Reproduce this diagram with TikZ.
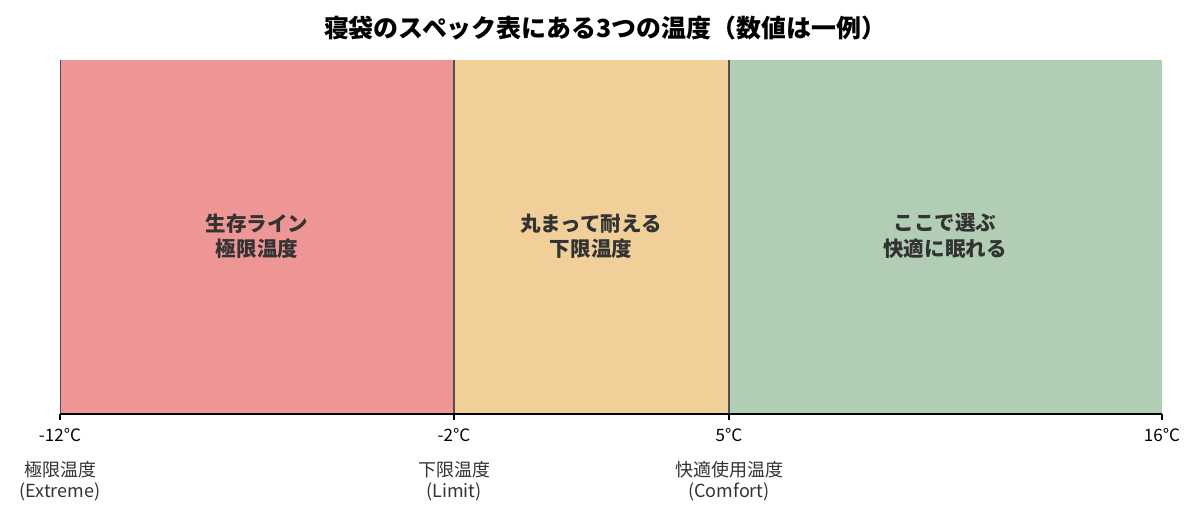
\documentclass[tikz,border=0pt]{standalone}
\usepackage{fontspec}
\setmainfont{Noto Sans CJK JP}
\definecolor{cred}{RGB}{237,150,149}
\definecolor{corange}{RGB}{240,207,152}
\definecolor{cgreen}{RGB}{177,206,181}
\definecolor{ctext}{RGB}{51,51,51}
\definecolor{cdiv}{RGB}{80,80,80}
\tikzset{
  band/.style={draw=none},
  divider/.style={draw=cdiv, line width=1.6pt},
  axisline/.style={draw=black, line width=0.9pt},
  tickmark/.style={draw=black, line width=0.9pt},
  zonelabel/.style={font=\fontsize{15.4}{19}\selectfont\bfseries, text=ctext, align=center},
  ticklabel/.style={font=\fontsize{12.8}{15}\selectfont, text=black},
  kindlabel/.style={font=\fontsize{13.5}{15.5}\selectfont, text=ctext, align=center},
  titlestyle/.style={font=\fontsize{18.7}{22}\selectfont\bfseries, text=black}
}
\begin{document}
\begin{tikzpicture}[x=0.75pt,y=-0.75pt]
\useasboundingbox (0,0) rectangle (1200,528);
\fill[white] (0,0) rectangle (1200,528);
% bands
\fill[cred] (60,60) rectangle (454,414);
\fill[corange] (454,60) rectangle (729,414);
\fill[cgreen] (729,60) rectangle (1162,414);
\draw[cdiv, line width=0.6pt] (60,60) -- (60,414);
% dividers
\coordinate (d1t) at (454,60); \coordinate (d1b) at (454,414);
\coordinate (d2t) at (729,60); \coordinate (d2b) at (729,414);
\draw[divider] (d1t) -- (d1b);
\draw[divider] (d2t) -- (d2b);
% axis
\coordinate (a0) at (60,414); \coordinate (a1) at (1162,414);
\draw[axisline] (a0) -- (a1);
\foreach \x/\n in {60/t1,454/t2,729/t3,1162/t4}{
  \coordinate (\n) at (\x,414);
  \coordinate (\n e) at (\x,420);
  \draw[tickmark] (\n) -- (\n e);
}
% title
\node[titlestyle] (title) at (605,28) {寝袋のスペック表にある3つの温度（数値は一例）};
% zone labels
\node[zonelabel] (z1) at (257,236) {生存ライン\\極限温度};
\node[zonelabel] (z2) at (591,236) {丸まって耐える\\下限温度};
\node[zonelabel] (z3) at (945,236) {ここで選ぶ\\快適に眠れる};
% tick labels
\node[ticklabel] (l1) at (60,435) {-12°C};
\node[ticklabel] (l2) at (454,435) {-2°C};
\node[ticklabel] (l3) at (729,435) {5°C};
\node[ticklabel] (l4) at (1162,435) {16°C};
% kind labels
\node[kindlabel] (k1) at (60,481) {極限温度\\(Extreme)};
\node[kindlabel] (k2) at (454,481) {下限温度\\(Limit)};
\node[kindlabel] (k3) at (729,481) {快適使用温度\\(Comfort)};
\end{tikzpicture}
\end{document}
